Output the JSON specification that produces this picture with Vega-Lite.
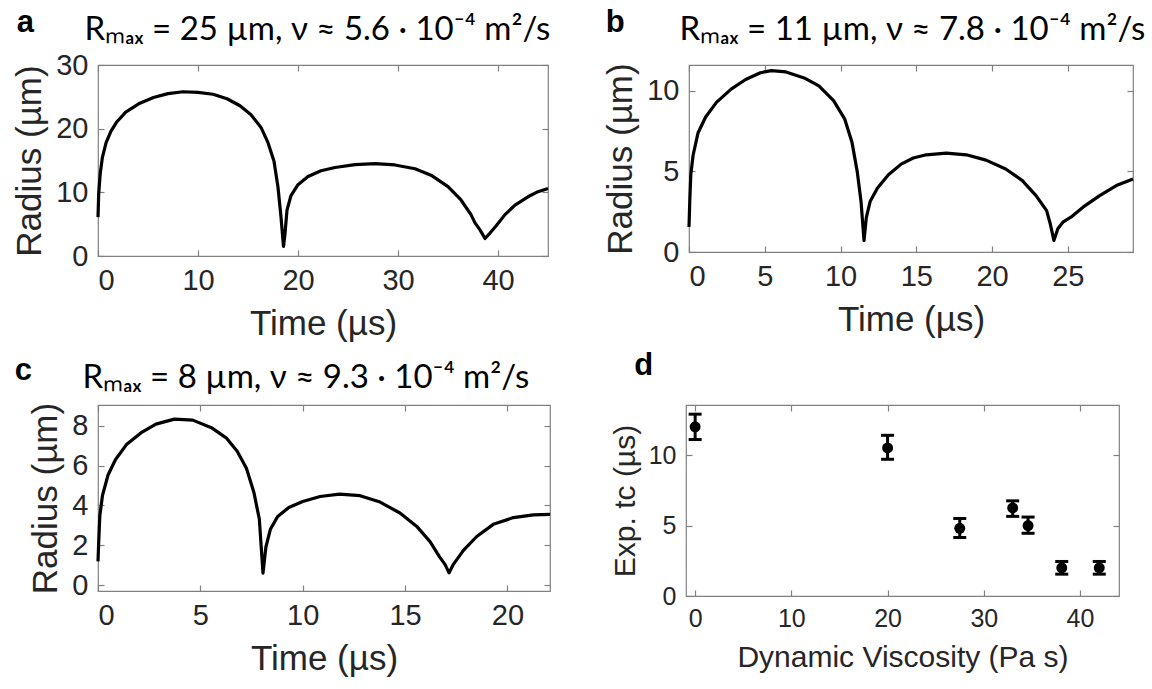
{
  "$schema": "https://vega.github.io/schema/vega-lite/v6.json",
  "background": "white",
  "padding": {"left": 12, "top": 6, "right": 0, "bottom": 0},
  "spacing": 7,
  "config": {
    "font": "Liberation Sans",
    "view": {"stroke": "#808080", "strokeWidth": 1.2},
    "axis": {"grid": false, "domain": false, "tickSize": -6, "tickColor": "#808080", "tickWidth": 1.2,
      "labelFont": "Liberation Sans", "labelFontSize": 29, "labelColor": "#262626",
      "titleFont": "Liberation Sans", "titleFontSize": 35, "titleFontWeight": "normal", "titleColor": "#262626"},
    "axisLeft": {"labelPadding": 16, "titlePadding": 8},
    "axisBottom": {"labelPadding": 16, "titlePadding": 11},
    "axisTop": {"titleFont": "Lato", "titleFontSize": 33, "titleColor": "black", "titleAnchor": "start", "titleAlign": "left", "titleBaseline": "alphabetic", "titleX": -14, "titleY": -26},
    "title": {"font": "Liberation Sans", "fontSize": 31, "fontWeight": "bold", "color": "black", "anchor": "start", "frame": "bounds", "offset": 0, "baseline": "alphabetic"}
  },
  "datasets": {
    "a": [
      {"t":0,"r":6.1},{"t":0.07,"r":9.8},{"t":0.22,"r":12.9},{"t":0.44,"r":15.5},{"t":0.81,"r":17.8},{"t":1.3,"r":19.6},{"t":1.85,"r":21.0},{"t":2.77,"r":22.6},{"t":4.07,"r":23.9},{"t":5.55,"r":24.9},{"t":7.0,"r":25.5},{"t":8.5,"r":25.8},{"t":10,"r":25.7},{"t":11.5,"r":25.4},{"t":12.9,"r":24.7},{"t":14.2,"r":23.6},{"t":15.3,"r":22.2},{"t":16.3,"r":20.2},{"t":17.0,"r":17.8},{"t":17.6,"r":14.9},{"t":18.0,"r":10.8},{"t":18.3,"r":6.1},{"t":18.55,"r":1.5},{"t":18.7,"r":3.5},{"t":18.9,"r":7.2},{"t":19.3,"r":9.5},{"t":20.0,"r":11.2},{"t":21.0,"r":12.5},{"t":22.3,"r":13.4},{"t":23.7,"r":13.9},{"t":25.7,"r":14.35},{"t":27.7,"r":14.5},{"t":29.7,"r":14.3},{"t":31.7,"r":13.7},{"t":33.3,"r":12.7},{"t":35.0,"r":10.9},{"t":36.3,"r":8.8},{"t":37.3,"r":6.5},{"t":37.7,"r":5.2},{"t":38.2,"r":4.1},{"t":38.7,"r":2.75},{"t":39.2,"r":3.6},{"t":39.8,"r":4.7},{"t":40.7,"r":6.5},{"t":41.7,"r":8.0},{"t":43.0,"r":9.3},{"t":44.0,"r":10.1},{"t":45.0,"r":10.6}
    ],
    "b": [
      {"t":0,"r":1.55},{"t":0.05,"r":3.15},{"t":0.12,"r":4.8},{"t":0.27,"r":6.0},{"t":0.6,"r":7.4},{"t":1.09,"r":8.36},{"t":1.81,"r":9.28},{"t":2.78,"r":10.1},{"t":3.74,"r":10.7},{"t":4.71,"r":11.12},{"t":5.43,"r":11.25},{"t":6.4,"r":11.17},{"t":7.6,"r":10.8},{"t":8.57,"r":10.3},{"t":9.54,"r":9.39},{"t":10.27,"r":8.26},{"t":10.75,"r":6.83},{"t":11.1,"r":5.0},{"t":11.35,"r":3.15},{"t":11.55,"r":0.7},{"t":11.7,"r":2.13},{"t":11.96,"r":3.15},{"t":12.44,"r":3.97},{"t":13.16,"r":4.79},{"t":14.0,"r":5.45},{"t":14.8,"r":5.83},{"t":15.66,"r":6.03},{"t":16.98,"r":6.13},{"t":18.3,"r":6.03},{"t":19.6,"r":5.7},{"t":20.9,"r":5.15},{"t":22.0,"r":4.43},{"t":22.9,"r":3.5},{"t":23.6,"r":2.57},{"t":23.84,"r":1.75},{"t":24.08,"r":0.72},{"t":24.34,"r":1.44},{"t":24.67,"r":1.85},{"t":25.2,"r":2.16},{"t":26.0,"r":2.78},{"t":27.1,"r":3.5},{"t":28.2,"r":4.12},{"t":29.3,"r":4.53}
    ],
    "c": [
      {"t":0,"r":1.19},{"t":0.04,"r":2.3},{"t":0.09,"r":3.49},{"t":0.22,"r":4.51},{"t":0.49,"r":5.53},{"t":0.85,"r":6.3},{"t":1.39,"r":7.06},{"t":2.11,"r":7.66},{"t":2.83,"r":8.09},{"t":3.73,"r":8.34},{"t":4.63,"r":8.29},{"t":5.54,"r":7.91},{"t":6.26,"r":7.4},{"t":6.8,"r":6.72},{"t":7.25,"r":5.87},{"t":7.61,"r":4.68},{"t":7.88,"r":3.32},{"t":8.06,"r":0.6},{"t":8.2,"r":1.9},{"t":8.42,"r":2.8},{"t":8.78,"r":3.45},{"t":9.32,"r":3.9},{"t":10.0,"r":4.2},{"t":10.85,"r":4.45},{"t":11.8,"r":4.57},{"t":12.8,"r":4.49},{"t":13.78,"r":4.17},{"t":14.75,"r":3.62},{"t":15.56,"r":2.96},{"t":16.22,"r":2.18},{"t":16.7,"r":1.39},{"t":16.95,"r":1.04},{"t":17.15,"r":0.61},{"t":17.36,"r":1.04},{"t":17.85,"r":1.74},{"t":18.5,"r":2.44},{"t":19.31,"r":3.05},{"t":20.29,"r":3.39},{"t":21.27,"r":3.53},{"t":22.08,"r":3.55}
    ],
    "d": [
      {"v":0,"tc":12.0,"lo":11.1,"hi":12.9},{"v":20,"tc":10.5,"lo":9.7,"hi":11.4},{"v":27.5,"tc":4.8,"lo":4.15,"hi":5.5},{"v":33,"tc":6.25,"lo":5.65,"hi":6.75},{"v":34.6,"tc":5.0,"lo":4.45,"hi":5.6},{"v":38.1,"tc":2.0,"lo":1.55,"hi":2.45},{"v":42.0,"tc":2.0,"lo":1.55,"hi":2.45}
    ]
  },
  "vconcat": [
    {
      "spacing": 52,
      "hconcat": [
        {
          "width": 450, "height": 191,
          "title": {"text": "a", "dx": 4, "dy": 30},
          "data": {"name": "a"},
          "layer": [
            {"mark": {"type": "line", "color": "black", "strokeWidth": 3.2, "strokeJoin": "round"},
             "encoding": {
               "x": {"field": "t", "type": "quantitative", "scale": {"domain": [0, 45], "nice": false, "zero": false}, "axis": {"orient": "bottom", "values": [0, 10, 20, 30, 40], "title": "Time (µs)"}},
               "y": {"field": "r", "type": "quantitative", "scale": {"domain": [0, 30], "nice": false}, "axis": {"orient": "left", "values": [0, 10, 20, 30], "title": "Radius (µm)"}}}},
            {"mark": {"type": "line", "opacity": 0, "strokeOpacity": 0},
             "encoding": {
               "x": {"field": "t", "type": "quantitative", "axis": {"orient": "top", "values": [0, 10, 20, 30, 40], "labels": false, "title": "Rₘₐₓ = 25 µm, ν ≈ 5.6 · 10⁻⁴ m²/s"}},
               "y": {"field": "r", "type": "quantitative", "axis": {"orient": "right", "values": [0, 10, 20, 30], "labels": false, "title": null}}}}
          ]
        },
        {
          "width": 444, "height": 187,
          "title": {"text": "b", "dx": 2, "dy": 30},
          "data": {"name": "b"},
          "layer": [
            {"mark": {"type": "line", "color": "black", "strokeWidth": 3.2, "strokeJoin": "round"},
             "encoding": {
               "x": {"field": "t", "type": "quantitative", "scale": {"domain": [0, 29.3], "nice": false, "zero": false}, "axis": {"orient": "bottom", "values": [0, 5, 10, 15, 20, 25], "title": "Time (µs)"}},
               "y": {"field": "r", "type": "quantitative", "scale": {"domain": [0, 11.6], "nice": false}, "axis": {"orient": "left", "values": [0, 5, 10], "title": "Radius (µm)"}}}},
            {"mark": {"type": "line", "opacity": 0, "strokeOpacity": 0},
             "encoding": {
               "x": {"field": "t", "type": "quantitative", "axis": {"orient": "top", "values": [0, 5, 10, 15, 20, 25], "labels": false, "title": "Rₘₐₓ = 11 µm, ν ≈ 7.8 · 10⁻⁴ m²/s", "titleX": -10}},
               "y": {"field": "r", "type": "quantitative", "axis": {"orient": "right", "values": [0, 5, 10], "labels": false, "title": null}}}}
          ]
        }
      ]
    },
    {
      "spacing": 56,
      "hconcat": [
        {
          "width": 452, "height": 186,
          "title": {"text": "c", "dx": -14, "dy": 30},
          "data": {"name": "c"},
          "layer": [
            {"mark": {"type": "line", "color": "black", "strokeWidth": 3.2, "strokeJoin": "round"},
             "encoding": {
               "x": {"field": "t", "type": "quantitative", "scale": {"domain": [0, 22.08], "nice": false, "zero": false}, "axis": {"orient": "bottom", "values": [0, 5, 10, 15, 20], "title": "Time (µs)"}},
               "y": {"field": "r", "type": "quantitative", "scale": {"domain": [-0.3, 9.05], "nice": false, "zero": false}, "axis": {"orient": "left", "values": [0, 2, 4, 6, 8], "title": "Radius (µm)"}}}},
            {"mark": {"type": "line", "opacity": 0, "strokeOpacity": 0},
             "encoding": {
               "x": {"field": "t", "type": "quantitative", "axis": {"orient": "top", "values": [0, 5, 10, 15, 20], "labels": false, "title": "Rₘₐₓ = 8 µm, ν ≈ 9.3 · 10⁻⁴ m²/s", "titleX": -16, "titleY": -18}},
               "y": {"field": "r", "type": "quantitative", "axis": {"orient": "right", "values": [0, 2, 4, 6, 8], "labels": false, "title": null}}}}
          ]
        },
        {
          "width": 433, "height": 191,
          "title": {"text": "d", "dx": 24, "dy": -18},
          "data": {"name": "d"},
          "layer": [
            {"mark": {"type": "rule", "color": "black", "strokeWidth": 3},
             "encoding": {
               "x": {"field": "v", "type": "quantitative", "scale": {"domain": [-0.95, 44.05], "nice": false, "zero": false}, "axis": {"orient": "bottom", "values": [0, 10, 20, 30, 40], "title": "Dynamic Viscosity (Pa s)", "labelFontSize": 25, "titleFontSize": 30}},
               "y": {"field": "lo", "type": "quantitative", "scale": {"domain": [0, 13.55], "nice": false}, "axis": {"orient": "left", "values": [0, 5, 10], "title": "Exp. tc (µs)", "labelFontSize": 25, "titleFontSize": 30}},
               "y2": {"field": "hi"}}},
            {"mark": {"type": "tick", "orient": "horizontal", "color": "black", "size": 13, "thickness": 3, "opacity": 1},
             "encoding": {
               "x": {"field": "v", "type": "quantitative", "axis": null},
               "y": {"field": "lo", "type": "quantitative", "axis": null}}},
            {"mark": {"type": "tick", "orient": "horizontal", "color": "black", "size": 13, "thickness": 3, "opacity": 1},
             "encoding": {
               "x": {"field": "v", "type": "quantitative", "axis": null},
               "y": {"field": "hi", "type": "quantitative", "axis": null}}},
            {"mark": {"type": "point", "shape": "circle", "filled": true, "color": "black", "size": 120, "opacity": 1},
             "encoding": {
               "x": {"field": "v", "type": "quantitative", "axis": {"orient": "top", "values": [0, 10, 20, 30, 40], "labels": false, "title": null}},
               "y": {"field": "tc", "type": "quantitative", "axis": {"orient": "right", "values": [0, 5, 10], "labels": false, "title": null}}}}
          ]
        }
      ]
    }
  ]
}
